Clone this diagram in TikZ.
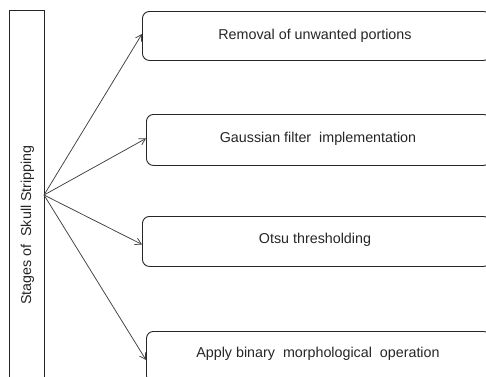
\documentclass[tikz,border=0pt]{standalone}
\usepackage{fontspec}
\setmainfont{Liberation Sans}
\usetikzlibrary{arrows.meta}
\begin{document}
\begin{tikzpicture}[x=1pt,y=-1pt,
  stagebox/.style={draw=black!85,line width=0.9pt,rounded corners=7pt,inner sep=0pt},
  conn/.style={draw=black!75,line width=0.75pt,-{Straight Barb[length=6pt,width=7pt]}},
  lbl/.style={font=\fontsize{14.3}{17}\selectfont,text=black!85}]
\useasboundingbox (0,0) rectangle (486,376);
\fill[white] (0,0) rectangle (486,376);
% left bar
\node[draw=black!85,line width=0.9pt,minimum width=35pt,minimum height=370pt,inner sep=0pt,anchor=north west] (st) at (9,10) {};
\node[lbl,rotate=90] (stl) at (27.5,225) {Stages of\ \ Skull Stripping};
% boxes
\node[stagebox,minimum width=348pt,minimum height=49pt,anchor=north west] (b1) at (142,11) {};
\node[stagebox,minimum width=344pt,minimum height=51pt,anchor=north west] (b2) at (146,114) {};
\node[stagebox,minimum width=348pt,minimum height=50pt,anchor=north west] (b3) at (142,216) {};
\node[stagebox,minimum width=344pt,minimum height=51pt,anchor=north west] (b4) at (146,331) {};
\node[lbl] (t1) at (315,35.5) {Removal of unwanted portions};
\node[lbl] (t2) at (318,139) {Gaussian filter\ \ implementation};
\node[lbl] (t3) at (315,240) {Otsu thresholding};
\node[lbl] (t4) at (318,354) {Apply binary\ \ morphological\ \ operation};
\coordinate (src) at (44,195);
\draw[conn] (src) -- ([yshift=2pt]b1.west);
\draw[conn] (src) -- ([yshift=1.5pt]b2.west);
\draw[conn] (src) -- ([yshift=-3pt]b3.west);
\draw[conn] (src) -- ([yshift=-3pt]b4.west);
\end{tikzpicture}
\end{document}
